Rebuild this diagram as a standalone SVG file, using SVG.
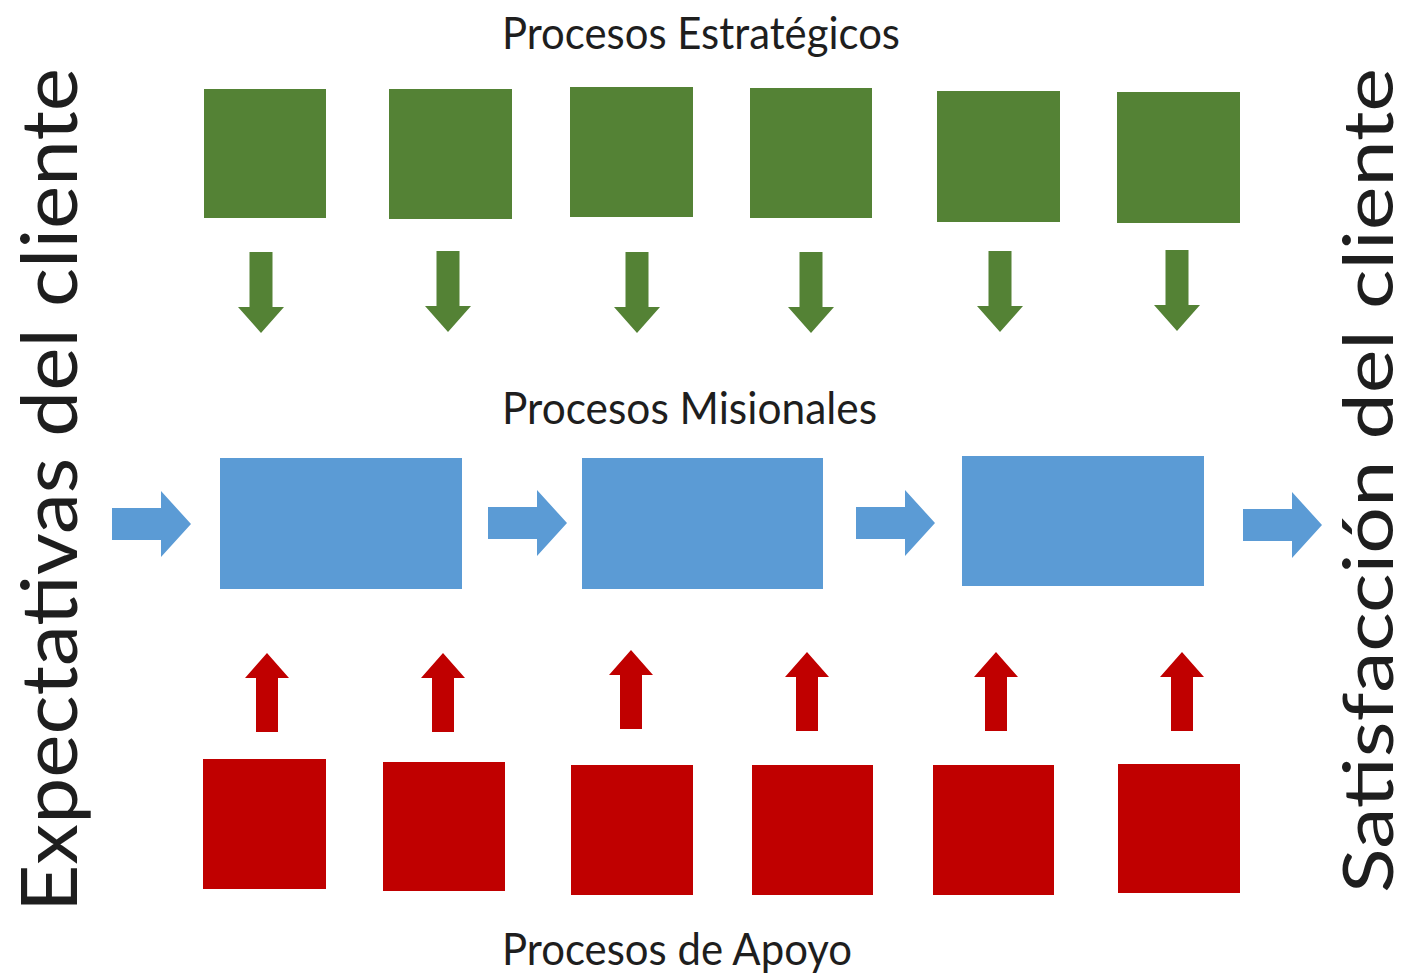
<svg xmlns="http://www.w3.org/2000/svg" width="1409" height="975" viewBox="0 0 1409 975">
<style>
.g{fill:#548235}
.b{fill:#5B9BD5}
.r{fill:#C00000}
.t{font-family:Lato,"Liberation Sans",sans-serif;fill:#1e1e1e}
</style>
<defs>
<path id="dn" d="M-11.5,0 H11.5 V55 H23 L0,81 L-23,55 H-11.5 Z"/>
<path id="up" d="M0,0 L22,25 H11 V79 H-11 V25 H-22 Z"/>
<path id="rt" d="M0,-16 H49 V-33 L79,0 L49,33 V16 H0 Z"/>
</defs>
<rect width="1409" height="975" fill="#ffffff"/>
<text class="t" x="502" y="49" font-size="44" textLength="398" lengthAdjust="spacingAndGlyphs">Procesos Estratégicos</text>
<text class="t" x="502" y="424" font-size="44" textLength="375" lengthAdjust="spacingAndGlyphs">Procesos Misionales</text>
<text class="t" x="502" y="965" font-size="44" textLength="350" lengthAdjust="spacingAndGlyphs">Procesos de Apoyo</text>
<text class="t" transform="translate(77,912) rotate(-90)" font-size="77" textLength="844" lengthAdjust="spacingAndGlyphs">Expectativas del cliente</text>
<text class="t" transform="translate(1393,893) rotate(-90)" font-size="69" textLength="825" lengthAdjust="spacingAndGlyphs">Satisfacción del cliente</text>
<g id="estrategicos">
<rect id="e1" class="g" x="204" y="89" width="122" height="129"/>
<rect id="e2" class="g" x="389" y="89" width="123" height="130"/>
<rect id="e3" class="g" x="570" y="87" width="123" height="130"/>
<rect id="e4" class="g" x="750" y="88" width="122" height="130"/>
<rect id="e5" class="g" x="937" y="91" width="123" height="131"/>
<rect id="e6" class="g" x="1117" y="92" width="123" height="131"/>
</g>
<g id="misionales">
<rect id="m1" class="b" x="220" y="458" width="242" height="131"/>
<rect id="m2" class="b" x="582" y="458" width="241" height="131"/>
<rect id="m3" class="b" x="962" y="456" width="242" height="130"/>
</g>
<g id="apoyo">
<rect id="a1" class="r" x="203" y="759" width="123" height="130"/>
<rect id="a2" class="r" x="383" y="762" width="122" height="129"/>
<rect id="a3" class="r" x="571" y="765" width="122" height="130"/>
<rect id="a4" class="r" x="752" y="765" width="121" height="130"/>
<rect id="a5" class="r" x="933" y="765" width="121" height="130"/>
<rect id="a6" class="r" x="1118" y="764" width="122" height="129"/>
</g>
<g id="connectors">
<use href="#dn" class="g" x="261" y="252"/>
<use href="#dn" class="g" x="448" y="251"/>
<use href="#dn" class="g" x="637" y="252"/>
<use href="#dn" class="g" x="811" y="252"/>
<use href="#dn" class="g" x="1000" y="251"/>
<use href="#dn" class="g" x="1177" y="250"/>
<use href="#rt" class="b" x="112" y="524"/>
<use href="#rt" class="b" x="488" y="523"/>
<use href="#rt" class="b" x="856" y="523"/>
<use href="#rt" class="b" x="1243" y="525"/>
<use href="#up" class="r" x="267" y="653"/>
<use href="#up" class="r" x="443" y="653"/>
<use href="#up" class="r" x="631" y="650"/>
<use href="#up" class="r" x="807" y="652"/>
<use href="#up" class="r" x="996" y="652"/>
<use href="#up" class="r" x="1182" y="652"/>
</g>
</svg>
